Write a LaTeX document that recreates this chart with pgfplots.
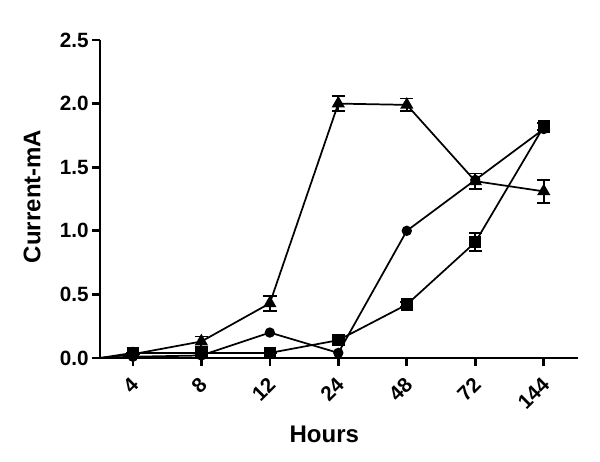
\documentclass[border=0pt]{standalone}
\usepackage{pgfplots}
\pgfplotsset{compat=1.18}
\usepackage{fontspec}
\setmainfont{Liberation Sans}
\begin{document}
\begin{tikzpicture}
\path[use as bounding box] (-75pt,-77.25pt) rectangle (375pt,268.5pt);
\begin{axis}[
  at={(0,0)}, anchor=south west,
  scale only axis, width=358.5pt, height=238.5pt,
  xmin=-0.48, xmax=6.5, ymin=0, ymax=2.5,
  axis x line*=bottom, axis y line*=left,
  axis line style={line width=2.2pt, -},
  xtick={0,1,2,3,4,5,6},
  xticklabels={4,8,12,24,48,72,144},
  ytick={0,0.5,1,1.5,2,2.5},
  yticklabel style={/pgf/number format/fixed,/pgf/number format/fixed zerofill,/pgf/number format/precision=1, font=\fontsize{15.5}{18}\selectfont\bfseries, xshift=1pt},
  /pgf/number format/assume math mode=true,
  xticklabel style={rotate=45, anchor=east, font=\fontsize{15.5}{18}\selectfont\bfseries, xshift=-3.5pt, yshift=-9pt},
  tick align=outside,
  major tick length=6pt,
  tick style={line width=2pt, black},
  xlabel={\bfseries Hours}, ylabel={\bfseries Current-mA},
  label style={font=\fontsize{18}{21}\selectfont\bfseries},
  xlabel style={at={(axis description cs:0.5,0)}, anchor=center, yshift=-57pt, xshift=-11pt},
  ylabel style={at={(axis description cs:0,0.5)}, anchor=center, yshift=51pt, xshift=2pt},
  clip=false,
]
% connections from origin
\addplot[black, line width=1.3pt, no marks] coordinates {(-0.48,0) (0,0.03)};
\addplot[black, line width=1.3pt, no marks] coordinates {(-0.48,0) (0,0.01)};
\addplot[black, line width=1.3pt, no marks] coordinates {(-0.48,0) (0,0.04)};
% triangles
\addplot[black, line width=1.3pt, mark=triangle*, mark size=4.5pt,
  error bars/.cd, y dir=both, y explicit,
  error bar style={line width=1.3pt},
  error mark options={rotate=90, mark size=5pt, line width=1.3pt}]
 coordinates {
 (0,0.03) +- (0,0)
 (1,0.13) +- (0,0.04)
 (2,0.43) +- (0,0.06)
 (3,2.00) +- (0,0.06)
 (4,1.99) +- (0,0.05)
 (5,1.39) +- (0,0.06)
 (6,1.31) +- (0,0.09)
 };
% circles
\addplot[black, line width=1.3pt, mark=*, mark size=3.2pt] coordinates {
 (0,0.01) (1,0.02) (2,0.20) (3,0.04) (4,1.00) (5,1.40) (6,1.80)
 };
% squares
\addplot[black, line width=1.3pt, mark=square*, mark size=4pt,
  error bars/.cd, y dir=both, y explicit,
  error bar style={line width=1.3pt},
  error mark options={rotate=90, mark size=5pt, line width=1.3pt}]
 coordinates {
 (0,0.04) +- (0,0)
 (1,0.04) +- (0,0)
 (2,0.04) +- (0,0)
 (3,0.14) +- (0,0.02)
 (4,0.42) +- (0,0.02)
 (5,0.91) +- (0,0.07)
 (6,1.82) +- (0,0.03)
 };
\end{axis}
\end{tikzpicture}
\end{document}
